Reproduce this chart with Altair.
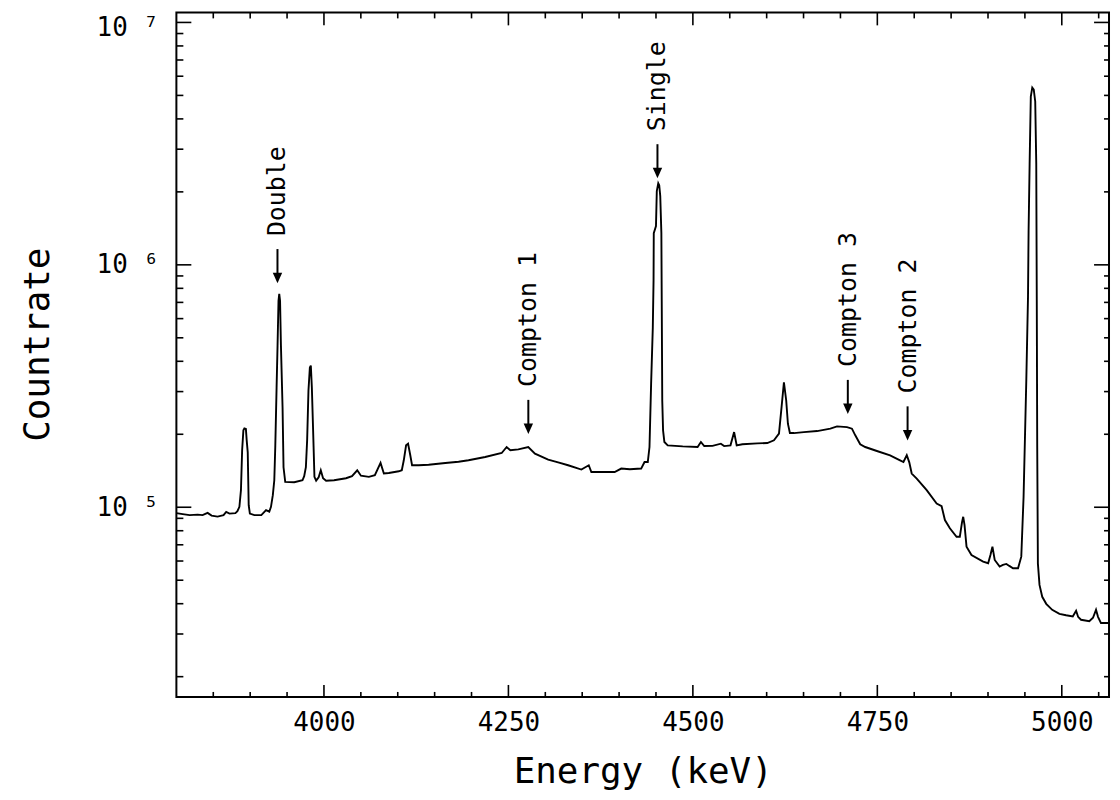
import altair as alt
import pandas as pd

# ---------------- spectrum ----------------
energy_keV = [
    3800, 3808.5, 3818, 3828.8, 3835.5, 3842.3, 3847.7, 3855.8, 3863.9, 3867.5,
    3872, 3880, 3882.7, 3885.4, 3887.5, 3889.1, 3890.8, 3892.2, 3894.2, 3895.3,
    3896.7, 3898, 3899.6, 3905.7, 3915.1, 3921.5, 3925.9, 3928.2, 3930.7, 3932.7,
    3934, 3935.8, 3937.1, 3938.4, 3939.4, 3940.5, 3941.7, 3943.9, 3945.2, 3947.5,
    3959.7, 3970.9, 3973.2, 3975.5, 3977.2, 3979, 3980.9, 3982.2, 3983.6, 3985.3,
    3987.1, 3989.4, 3992.8, 3995.7, 3998.8, 4002.9, 4013.7, 4029.9, 4038, 4045.1,
    4050.1, 4060.9, 4069, 4076.7, 4081.2, 4087.9, 4101.4, 4105.5, 4108.2, 4111.3,
    4114, 4117, 4119.4, 4128.5, 4141.9, 4164.5, 4182.4, 4195.9, 4218.5, 4240.9,
    4247.6, 4252.6, 4263.4, 4276.9, 4286, 4303.9, 4317.4, 4330.9, 4348.9, 4358.9,
    4362.4, 4371.4, 4394, 4402.9, 4414.6, 4429.9, 4434.5, 4438.9, 4441.2, 4443.4,
    4445.7, 4446.7, 4447, 4450, 4451.1, 4453.1, 4454.4, 4455.8, 4457.3, 4457.8,
    4458.5, 4459.6, 4461.4, 4465.9, 4486.2, 4506.4, 4510.9, 4515.4, 4526.6, 4537.9,
    4542.4, 4551, 4555.9, 4559.4, 4567.1, 4587.4, 4600.9, 4609.9, 4616.7, 4620.2,
    4623.4, 4626.5, 4628.8, 4631.5, 4636.9, 4650.4, 4668.4, 4686.3, 4695.4, 4708.9,
    4715.6, 4720.1, 4726.8, 4733.6, 4749.4, 4767.3, 4780.8, 4785.4, 4789.9, 4793.3,
    4796.6, 4803.4, 4816.9, 4830.4, 4837.1, 4841.6, 4848.3, 4857.4, 4861.8, 4864.8,
    4866.4, 4868.2, 4870.9, 4877.6, 4893.4, 4900.2, 4903.3, 4906, 4909.1, 4915.8,
    4920.2, 4924.9, 4928.9, 4933.9, 4940.7, 4945.1, 4948.2, 4951.9, 4954.2, 4955,
    4956.4, 4958, 4960, 4962, 4964, 4965.4, 4966.1, 4966.7, 4967.6, 4969.8,
    4973.5, 4978.9, 4987, 4996.8, 5005.9, 5014.9, 5019.4, 5022.1, 5026.1, 5037.3,
    5042.3, 5046.4, 5049.1, 5053.1, 5064,
]

countrate = [
    9.46e4, 9.37e4, 9.28e4, 9.32e4, 9.28e4, 9.48e4, 9.24e4, 9.15e4, 9.28e4, 9.57e4,
    9.41e4, 9.46e4, 9.63e4, 1.004e5, 1.176e5, 1.718e5, 2.076e5, 2.116e5, 2.106e5, 1.888e5,
    1.685e5, 1.020e5, 9.41e4, 9.28e4, 9.28e4, 9.73e4, 9.59e4, 1.004e5, 1.121e5, 1.292e5,
    1.767e5, 3.118e5, 4.640e5, 7.107e5, 7.593e5, 7.107e5, 4.640e5, 2.579e5, 1.462e5, 1.272e5,
    1.268e5, 1.292e5, 1.343e5, 1.462e5, 1.888e5, 3.030e5, 3.769e5, 3.841e5, 3.118e5, 2.076e5,
    1.334e5, 1.287e5, 1.330e5, 1.421e5, 1.317e5, 1.287e5, 1.292e5, 1.317e5, 1.343e5, 1.421e5,
    1.349e5, 1.334e5, 1.355e5, 1.523e5, 1.377e5, 1.385e5, 1.407e5, 1.421e5, 1.562e5, 1.800e5,
    1.829e5, 1.638e5, 1.490e5, 1.490e5, 1.497e5, 1.523e5, 1.540e5, 1.562e5, 1.612e5, 1.674e5,
    1.772e5, 1.718e5, 1.733e5, 1.772e5, 1.664e5, 1.573e5, 1.532e5, 1.490e5, 1.430e5, 1.490e5,
    1.398e5, 1.398e5, 1.398e5, 1.444e5, 1.434e5, 1.444e5, 1.537e5, 1.537e5, 1.772e5, 3.228e5,
    5.519e5, 8.587e5, 1.352e6, 1.445e6, 2.013e6, 2.172e6, 2.131e6, 1.920e6, 1.352e6, 7.107e5,
    2.757e5, 2.076e5, 1.858e5, 1.800e5, 1.783e5, 1.772e5, 1.858e5, 1.788e5, 1.792e5, 1.829e5,
    1.788e5, 1.800e5, 2.042e5, 1.800e5, 1.818e5, 1.835e5, 1.840e5, 1.888e5, 2.012e5, 2.587e5,
    3.278e5, 2.757e5, 2.211e5, 2.023e5, 2.023e5, 2.042e5, 2.062e5, 2.109e5, 2.155e5, 2.141e5,
    2.109e5, 1.980e5, 1.818e5, 1.772e5, 1.706e5, 1.638e5, 1.562e5, 1.537e5, 1.638e5, 1.532e5,
    1.377e5, 1.313e5, 1.176e5, 1.036e5, 1.010e5, 8.851e4, 8.185e4, 7.556e4, 7.556e4, 8.685e4,
    9.131e4, 8.444e4, 6.875e4, 6.356e4, 5.965e4, 5.875e4, 6.356e4, 6.875e4, 6.06e4, 5.689e4,
    5.781e4, 5.836e4, 5.727e4, 5.603e4, 5.603e4, 6.254e4, 1.103e5, 3.331e5, 7.332e5, 1.378e6,
    2.609e6, 4.949e6, 5.390e6, 5.289e6, 4.720e6, 2.609e6, 7.107e5, 1.783e5, 5.869e4, 4.783e4,
    4.270e4, 3.996e4, 3.775e4, 3.634e4, 3.583e4, 3.542e4, 3.740e4, 3.532e4, 3.434e4, 3.385e4,
    3.499e4, 3.775e4, 3.532e4, 3.328e4, 3.328e4,
]

# ---------------- annotations ----------------
ann_labels = ["Double", "Single", "Compton 1", "Compton 3", "Compton 2"]
ann_energy = [3937, 4452, 4277, 4710, 4791]
ann_tip_count = [8.42e5, 2.28e6, 2.01e5, 2.43e5, 1.89e5]

# ---------------- axes ----------------
x_domain = [3800, 5064]
y_domain = [16500, 1.1e7]
x_label_values = [4000, 4250, 4500, 4750, 5000]
x_minor_values = [e for e in range(3850, 5051, 50) if e % 250 != 0]
y_label_values = [1e5, 1e6, 1e7]
y_minor_values = [k * 10 ** n for n in (4, 5, 6) for k in range(2, 10)]

W, H = 936, 687
FONT = "DejaVu Sans Mono"

n = min(len(energy_keV), len(countrate))
spec_df = pd.DataFrame({"energy": energy_keV[:n], "count": countrate[:n]})
ann_df = pd.DataFrame({"label": ann_labels, "energy": ann_energy, "count": ann_tip_count})

xs = alt.Scale(domain=x_domain, nice=False, zero=False)
ys = alt.Scale(type="log", domain=y_domain, nice=False)

x_axis = alt.Axis(
    values=x_label_values, format="d", title="Energy (keV)",
    labelPadding=13, tickSize=0, ticks=False, domain=False, grid=False,
    labelFlush=False, titleY=86, titleBaseline="alphabetic",
)
y_axis = alt.Axis(
    values=y_label_values,
    labelExpr="'10 ' + (datum.value < 5e5 ? '\u2075' : datum.value < 5e6 ? '\u2076' : '\u2077')",
    labelOffset={"condition": {"test": "datum.value > 5e6", "value": 5}, "value": 0},
    title="Countrate", labelPadding=18, tickSize=0, ticks=False, domain=False,
    grid=False, labelFlush=False, labelBaseline="middle",
    titleX=-128, titleY=333, titleAngle=270, titleAlign="center",
    titleBaseline="alphabetic",
)

spectrum = alt.Chart(spec_df).mark_line(color="black", strokeWidth=1.9, clip=True).encode(
    x=alt.X("energy:Q", scale=xs, axis=x_axis),
    y=alt.Y("count:Q", scale=ys, axis=y_axis),
)


def x_ticks(values, edge, length):
    # vertical inward tick starting on the bottom (edge=min) or top (edge=max) frame
    df = pd.DataFrame({"energy": values, "count": [edge] * len(values)})
    return alt.Chart(df).mark_rule(color="black", strokeWidth=1.6, y2Offset=length).encode(
        x=alt.X("energy:Q", scale=xs),
        y=alt.Y("count:Q", scale=ys),
        y2="count:Q",
    )


def y_ticks(values, edge, length):
    # horizontal inward tick starting on the left (edge=min) or right (edge=max) frame
    df = pd.DataFrame({"count": values, "energy": [edge] * len(values)})
    return alt.Chart(df).mark_rule(color="black", strokeWidth=1.6, x2Offset=length).encode(
        y=alt.Y("count:Q", scale=ys),
        x=alt.X("energy:Q", scale=xs),
        x2="energy:Q",
    )


tick_layers = [
    x_ticks(x_label_values, y_domain[0], -12),
    x_ticks(x_minor_values, y_domain[0], -5),
    x_ticks(x_label_values, y_domain[1], 13),
    x_ticks(x_minor_values, y_domain[1], 6),
    y_ticks(y_label_values, x_domain[0], 15),
    y_ticks(y_minor_values, x_domain[0], 7),
    y_ticks(y_label_values, x_domain[1], -15),
    y_ticks(y_minor_values, x_domain[1], -5),
]

shafts = alt.Chart(ann_df).mark_rule(color="black", strokeWidth=2, yOffset=-8, y2Offset=-34).encode(
    x=alt.X("energy:Q", scale=xs),
    y=alt.Y("count:Q", scale=ys),
    y2="count:Q",
)
heads = alt.Chart(ann_df).mark_point(
    shape="M-0.9,-1L0.9,-1L0,1Z", filled=True, size=110, color="black",
    opacity=1, strokeWidth=0, yOffset=-5,
).encode(
    x=alt.X("energy:Q", scale=xs),
    y=alt.Y("count:Q", scale=ys),
)
texts = alt.Chart(ann_df).mark_text(
    angle=270, align="left", baseline="middle", font=FONT, fontSize=25,
    color="black", yOffset=-47,
).encode(
    x=alt.X("energy:Q", scale=xs),
    y=alt.Y("count:Q", scale=ys),
    text="label:N",
)

chart = (
    alt.layer(spectrum, *tick_layers, shafts, heads, texts)
    .properties(
        width=W, height=H,
        autosize=alt.AutoSizeParams(type="none"),
        padding={"left": 169, "top": 3, "right": 3, "bottom": 94},
    )
    .configure_view(stroke="black", strokeWidth=2)
    .configure_axis(
        labelFont=FONT, labelFontSize=26, labelColor="black",
        titleFont=FONT, titleFontSize=36, titleFontWeight="normal", titleColor="black",
    )
)

chart.save("out.html", embed_options={"renderer": "svg", "actions": False})
